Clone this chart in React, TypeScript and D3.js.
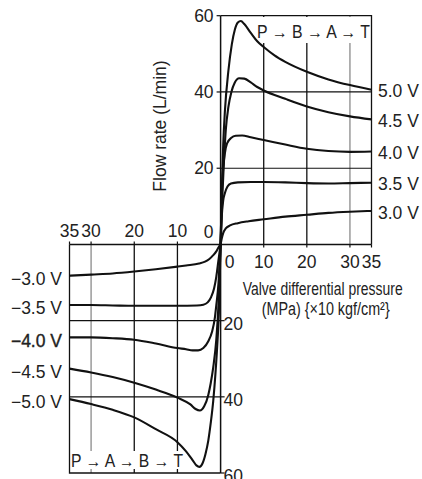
import React from "react";
import * as d3 from "d3";

type Pt = [number, number];

// Upper quadrant: P → B → A → T (pressure MPa, flow L/min)
const upperLabels = ["5.0 V", "4.5 V", "4.0 V", "3.5 V", "3.0 V"];
const up50: Pt[] = [[0,0],[0.3,15],[0.6,26],[1,35],[1.8,45.5],[2.6,52.5],[3.3,56.3],[4,58.2],[4.7,58.6],[5.5,57.8],[7,55.5],[8.5,53.3],[10,51.8],[12.5,49.6],[15,47.9],[20,45.3],[25,43.3],[30,41.8],[35,40.6]];
const up45: Pt[] = [[0,0],[0.3,10],[0.7,20],[1.2,30],[1.8,36],[2.5,40],[3.3,42.5],[4.3,43.6],[5.5,43.5],[7,42.5],[8.5,41.3],[10,40.4],[15,38.2],[20,36.2],[25,34.7],[30,33.6],[35,32.8]];
const up40: Pt[] = [[0,0],[0.25,12],[0.6,20],[1,24],[1.5,26.5],[2.5,28],[3.5,28.5],[5,28.6],[7,28.1],[10,27.4],[15,26.2],[20,25.1],[25,24.5],[30,24.3],[35,24.4]];
const up35: Pt[] = [[0,0],[0.25,7],[0.6,11.5],[1,13.5],[1.6,15.2],[2.4,16],[4,16.3],[7,16.4],[10,16.4],[15,16.3],[20,16.1],[25,16],[30,16.1],[35,16.2]];
const up30: Pt[] = [[0,0],[0.25,1.5],[0.6,3],[1.2,4.2],[2.2,5],[4,5.6],[6.5,6.1],[10,6.6],[15,7.3],[20,7.8],[25,8.3],[30,8.6],[35,8.8]];
const upperSeries = [up50, up45, up40, up35, up30];

// Lower quadrant: P → A → B → T
const lowerLabels = ["−3.0 V", "−3.5 V", "−4.0 V", "−4.5 V", "−5.0 V"];
const lo30: Pt[] = [[0,0],[0.5,0.8],[1,1.8],[1.7,2.8],[2.6,3.8],[3.6,4.5],[5,5],[8,5.5],[10,5.8],[15,6.5],[20,7.1],[25,7.6],[30,7.9],[35,8.2]];
const lo35: Pt[] = [[0,0],[0.5,4.2],[1,8.5],[1.5,11.5],[2.2,13.8],[3,15.2],[4,15.8],[5.5,16],[10,16.1],[15,16.1],[20,16.1],[25,16],[30,15.9],[35,15.9]];
const lo40: Pt[] = [[0,0],[0.5,10.3],[1,16],[1.3,19],[2,23],[2.85,25.4],[4,27.2],[5.2,27.8],[6.5,27.8],[8,27.5],[10,27.2],[15,26],[20,25],[25,24.6],[30,24.4],[35,24.4]];
const lo45: Pt[] = [[0,0],[0.5,16],[1,25],[1.7,32.2],[2.3,36.5],[2.85,39.5],[3.8,42.5],[4.8,43.6],[5.8,43.2],[7,42],[10,40.2],[15,38.1],[20,36.3],[25,34.8],[30,33.6],[35,32.6]];
const lo50: Pt[] = [[0,0],[0.4,18],[0.7,25],[1.2,34],[1.7,41],[2.3,47],[2.85,51.5],[3.5,55],[4.2,57.5],[4.9,58.4],[5.6,58],[6.5,56.6],[8,54.3],[10,51.9],[15,48.5],[20,45.4],[25,43.4],[30,41.9],[35,40.6]];
const lowerSeries = [lo30, lo35, lo40, lo45, lo50];

const xTicks = [10, 20, 30, 35];
const xTickLabels = ["10", "20", "30", "35"];
const yTicks = [20, 40, 60];
const yTickLabels = ["20", "40", "60"];
const gridX = [10, 20, 30];
const gridY = [20, 40];
const dirUpper = "P → B → A → T";
const dirLower = "P → A → B → T";

const FONT = "'Liberation Sans', Arial, Helvetica, sans-serif";

export default function App() {
  const W = 422, H = 479;
  const x0 = 220.6, y0 = 244.5;
  const xU = d3.scaleLinear().domain([0, 35]).range([x0, 371.5]);
  const xL = d3.scaleLinear().domain([0, 35]).range([x0, 69.5]);
  const yU = d3.scaleLinear().domain([0, 60]).range([y0, 15.7]);
  const yL = d3.scaleLinear().domain([0, 60]).range([y0, 473]);

  const lineU = d3.line<Pt>().x(d => xU(d[0])).y(d => yU(d[1])).curve(d3.curveMonotoneX);
  const lineL = d3.line<Pt>().x(d => xL(d[0])).y(d => yL(d[1])).curve(d3.curveMonotoneX);

  const fs = 17.5;
  const gridColor = (v: number) => (v === 30 ? "#8a8a8a" : "#111");

  return (
    <svg width={W} height={H} style={{ position: "absolute", left: 0, top: 0, background: "#fff" }} fontFamily={FONT}>
      <rect x={0} y={0} width={W} height={H} fill="#fff" />
      {/* Upper grid */}
      {gridX.map(v => (
        <line key={"gu" + v} x1={xU(v)} x2={xU(v)} y1={yU(60)} y2={y0} stroke={gridColor(v)} strokeWidth={1.3} />
      ))}
      {gridY.map(v => (
        <line key={"guy" + v} x1={x0} x2={xU(35)} y1={yU(v)} y2={yU(v)} stroke="#111" strokeWidth={1.2} />
      ))}
      {/* Lower grid */}
      {gridX.map(v => (
        <line key={"gl" + v} x1={xL(v)} x2={xL(v)} y1={y0} y2={yL(60)} stroke={gridColor(v)} strokeWidth={1.3} />
      ))}
      {gridY.map(v => (
        <line key={"gly" + v} x1={xL(35)} x2={x0} y1={yL(v)} y2={yL(v)} stroke="#111" strokeWidth={1.2} />
      ))}
      {/* white label backgrounds */}
      <rect x={255} y={17} width={115} height={26} fill="#fff" />
      <rect x={71} y={451} width={114} height={18} fill="#fff" />
      {/* boxes */}
      <path d={`M${x0},${yU(60)}H${xU(35)}V${y0}`} fill="none" stroke="#111" strokeWidth={1.3} />
      <path d={`M${x0},${yL(60)}H${xL(35)}V${y0}`} fill="none" stroke="#111" strokeWidth={1.3} />
      {/* axes */}
      <line x1={xL(35)} x2={xU(35)} y1={y0} y2={y0} stroke="#111" strokeWidth={1.5} />
      <line x1={x0} x2={x0} y1={yU(60)} y2={yL(60)} stroke="#111" strokeWidth={1.5} />
      {/* ticks */}
      {yTicks.map(v => (
        <line key={"tyu" + v} x1={x0 - 4} x2={x0} y1={yU(v)} y2={yU(v)} stroke="#111" strokeWidth={1.2} />
      ))}
      {yTicks.map(v => (
        <line key={"tyl" + v} x1={x0} x2={x0 + 4} y1={yL(v)} y2={yL(v)} stroke="#111" strokeWidth={1.2} />
      ))}
      {xTicks.map(v => (
        <line key={"txu" + v} x1={xU(v)} x2={xU(v)} y1={y0} y2={y0 + 3} stroke="#111" strokeWidth={1.2} />
      ))}
      {xTicks.map(v => (
        <line key={"txl" + v} x1={xL(v)} x2={xL(v)} y1={y0 - 3} y2={y0} stroke="#111" strokeWidth={1.2} />
      ))}
      {/* curves */}
      {upperSeries.map((s, i) => (
        <path key={"cu" + i} d={lineU(s) || ""} fill="none" stroke="#111" strokeWidth={2.1} />
      ))}
      {lowerSeries.map((s, i) => (
        <path key={"cl" + i} d={lineL(s.slice().reverse()) || ""} fill="none" stroke="#111" strokeWidth={2.1} />
      ))}
      {/* tick labels */}
      <g fontSize={fs} fill="#222">
        {yTicks.map((v, i) => (
          <text key={"lyu" + v} x={x0 - 7} y={yU(v)} dy="0.35em" textAnchor="end">{yTickLabels[i]}</text>
        ))}
        <text x={x0 - 7} y={y0 - 13} dy="0.35em" textAnchor="end">0</text>
        {xTicks.map((v, i) => (
          <text key={"lxu" + v} x={xU(v)} y={y0 + 17} dy="0.35em" textAnchor="middle">{xTickLabels[i]}</text>
        ))}
        <text x={x0 + 9} y={y0 + 17} dy="0.35em" textAnchor="middle">0</text>
        {xTicks.map((v, i) => (
          <text key={"lxl" + v} x={xL(v)} y={y0 - 14} dy="0.35em" textAnchor="middle">{xTickLabels[i]}</text>
        ))}
        {yTicks.map((v, i) => (
          <text key={"lyl" + v} x={x0 + 3} y={yL(v) + 3} dy="0.35em" textAnchor="start">{yTickLabels[i]}</text>
        ))}
      </g>
      {/* series labels */}
      <g fontSize={fs} fill="#222">
        {upperSeries.map((s, i) => (
          <text key={"su" + i} x={378} y={yU(s[s.length - 1][1]) + 1.5} dy="0.35em">{upperLabels[i]}</text>
        ))}
        {lowerSeries.map((s, i) => (
          <text key={"sl" + i} x={62} y={yL(s[s.length - 1][1]) + 3} dy="0.35em" textAnchor="end"
            stroke={i === 2 ? "#222" : "none"} strokeWidth={i === 2 ? 0.35 : 0}>{lowerLabels[i]}</text>
        ))}
      </g>
      {/* direction labels */}
      <text x={257} y={37.7} fontSize={fs} fill="#222" textLength={113} lengthAdjust="spacingAndGlyphs">{dirUpper}</text>
      <text x={71} y={466.5} fontSize={fs} fill="#222" textLength={112} lengthAdjust="spacingAndGlyphs">{dirLower}</text>
      {/* axis titles */}
      <text transform="translate(166,126) rotate(-90)" fontSize={fs} fill="#222" textAnchor="middle">Flow rate (L/min)</text>
      <text x={242.7} y={295} fontSize={fs} fill="#222" textLength={160} lengthAdjust="spacingAndGlyphs">Valve differential pressure</text>
      <text x={261.7} y={315} fontSize={fs} fill="#222" textLength={128} lengthAdjust="spacingAndGlyphs">(MPa) {"{×10 kgf/cm²}"}</text>
    </svg>
  );
}
